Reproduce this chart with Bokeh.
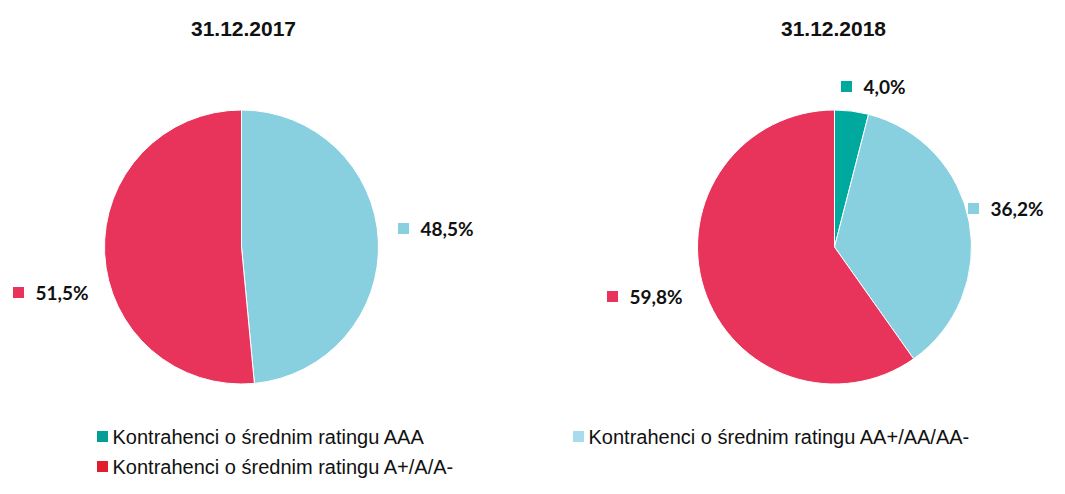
import math
from bokeh.plotting import figure
from bokeh.models import Range1d
from bokeh.embed import file_html
from bokeh.resources import INLINE
from bokeh.core.properties import value

# ---------------- data ----------------
titles = ["31.12.2017", "31.12.2018"]
categories = [
    "Kontrahenci o średnim ratingu AAA",
    "Kontrahenci o średnim ratingu AA+/AA/AA-",
    "Kontrahenci o średnim ratingu A+/A/A-",
]
values_2017 = [0.0, 48.5, 51.5]
values_2018 = [4.0, 36.2, 59.8]

# ---------------- style / layout ----------------
slice_colors = ["#00A99D", "#88CFE0", "#E8335B"]
legend_colors = ["#009E96", "#A8DCEC", "#E31E2C"]

W, H = 1049, 478


def fx(X):
    return X


def fy(Y):
    return H - Y


pie_centers = [(241, 246.5), (834, 246.5)]
R = 137
title_pos = [(243, 28), (833, 28)]
# label anchor (square centre) for each category per chart (image px)
label_pos = [
    [None, (403, 228), (18, 292)],
    [(846, 86), (973, 208), (612, 296)],
]
legend_pos = [(102, 436), (578, 436), (102, 466)]

p = figure(width=W, height=H, output_backend="svg", toolbar_location=None,
           x_range=Range1d(0, W), y_range=Range1d(0, H), min_border=0,
           background_fill_color="white", border_fill_color="white")
p.outline_line_color = None
p.axis.visible = False
p.grid.visible = False

for ci, vals in enumerate([values_2017, values_2018]):
    cx, cy = pie_centers[ci]
    total = sum(vals)
    cum = 0.0
    for k, v in enumerate(vals):
        if v <= 0:
            continue
        start = math.pi / 2 - 2 * math.pi * cum / total
        cum += v
        end = math.pi / 2 - 2 * math.pi * cum / total
        p.wedge(x=fx(cx), y=fy(cy), radius=R, start_angle=start, end_angle=end,
                direction="clock", fill_color=slice_colors[k],
                line_color="white", line_width=1)
        lx, ly = label_pos[ci][k]
        p.scatter(x=[fx(lx)], y=[fy(ly)], marker="square", size=11,
                  fill_color=slice_colors[k], line_color=None)
        txt = f"{v:.1f}".replace(".", ",") + "%"
        p.text(x=[fx(lx) + 17], y=[fy(ly)], text=[txt],
               text_font=value("Lato"), text_font_style="bold",
               text_font_size="19px", text_color="#111111",
               text_align="left", text_baseline="middle")
    tx, ty = title_pos[ci]
    p.text(x=[fx(tx)], y=[fy(ty)], text=[titles[ci]],
           text_font=value("Liberation Sans"), text_font_style="bold",
           text_font_size="21px", text_color="#111111",
           text_align="center", text_baseline="middle")

for k, cat in enumerate(categories):
    lx, ly = legend_pos[k]
    p.scatter(x=[fx(lx)], y=[fy(ly)], marker="square", size=11,
              fill_color=legend_colors[k], line_color=None)
    p.text(x=[fx(lx) + 10], y=[fy(ly)], text=[cat],
           text_font=value("Liberation Sans"), text_font_size="20px",
           text_color="#111111", text_align="left", text_baseline="middle")

open("out.html", "w").write(file_html(p, INLINE))
